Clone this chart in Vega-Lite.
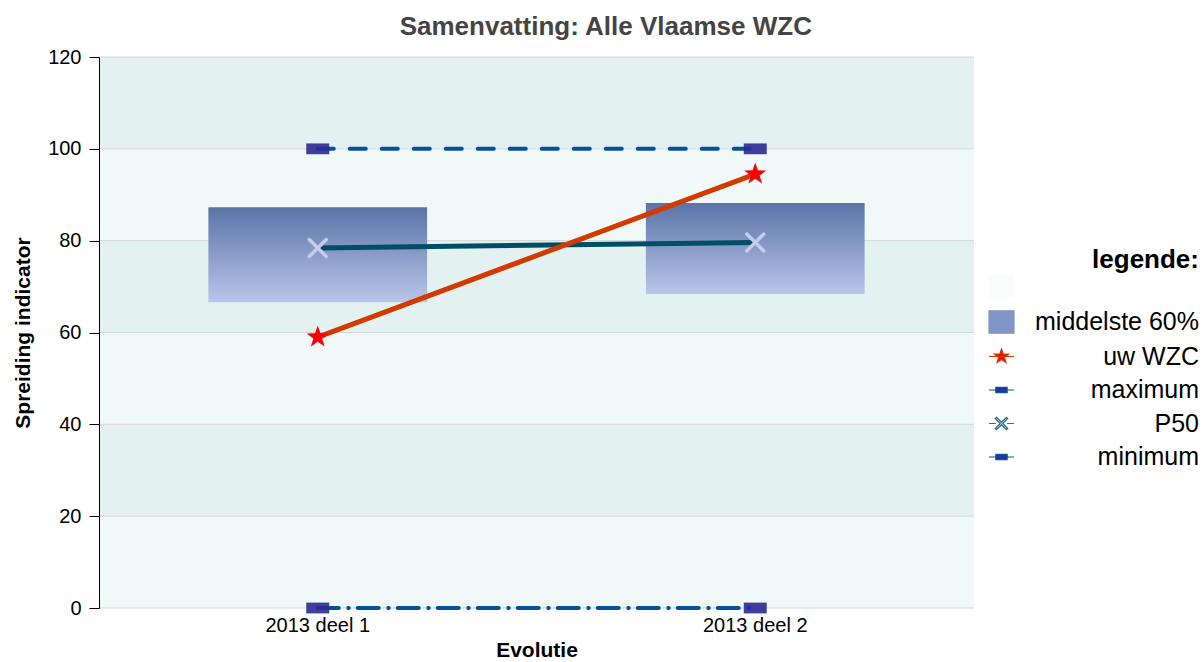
{
  "$schema": "https://vega.github.io/schema/vega-lite/v6.json",
  "width": 875,
  "height": 551,
  "padding": {"left": 12, "top": 14, "right": 0, "bottom": 0},
  "background": "white",
  "title": {"text": "Samenvatting: Alle Vlaamse WZC", "fontSize": 26, "fontWeight": "bold", "color": "#444444", "font": "Liberation Sans", "anchor": "middle", "frame": "bounds", "offset": 7},
  "datasets": {
    "main": [
      {"cat": "2013 deel 1", "p20": 66.6, "p80": 87.3, "p50": 78.4, "wzc": 59.0, "max": 100, "min": 0},
      {"cat": "2013 deel 2", "p20": 68.4, "p80": 88.2, "p50": 79.6, "wzc": 94.5, "max": 100, "min": 0}
    ],
    "darkbands": [{"lo": 100, "hi": 120}, {"lo": 60, "hi": 80}, {"lo": 20, "hi": 40}],
    "lightbands": [{"lo": 80, "hi": 100}, {"lo": 40, "hi": 60}, {"lo": 0, "hi": 20}],
    "grid": [{"v": 0}, {"v": 20}, {"v": 40}, {"v": 60}, {"v": 80}, {"v": 100}, {"v": 120}],
    "legend": [{"series": " "}, {"series": "middelste 60%"}, {"series": "uw WZC"}, {"series": "maximum"}, {"series": "P50"}, {"series": "minimum"}]
  },
  "config": {
    "font": "Liberation Sans",
    "view": {"stroke": null},
    "legend": {"orient": "none", "legendX": 889, "legendY": 190, "padding": 0, "titleAnchor": "end", "titleFontSize": 26, "titleFontWeight": "bold", "titleColor": "#000000", "titlePadding": 0, "labelFontSize": 25, "labelColor": "#000000", "labelAlign": "right", "labelOffset": 184, "labelLimit": 400, "symbolSize": 625, "symbolStrokeWidth": 1.2, "symbolOpacity": 1, "rowPadding": 6.5}
  },
  "layer": [
    {
      "data": {"name": "lightbands"},
      "mark": {"type": "rect", "fill": "#f0f9f8"},
      "encoding": {
        "y": {"field": "lo", "type": "quantitative", "scale": {"domain": [0, 120], "nice": false},
          "axis": {"values": [0, 20, 40, 60, 80, 100, 120], "zindex": 1, "grid": false, "domain": true, "ticks": true, "domainColor": "#000000", "tickColor": "#000000", "tickSize": 10, "labelPadding": 8, "labelFontSize": 20, "labelColor": "#000000", "title": "Spreiding indicator", "titleFontSize": 21, "titleFontWeight": "bold", "titleColor": "#000000", "titlePadding": 14}},
        "y2": {"field": "hi"}
      }
    },
    {
      "data": {"name": "darkbands"},
      "mark": {"type": "rect", "fill": "#e3f2f1"},
      "encoding": {
        "y": {"field": "lo", "type": "quantitative"},
        "y2": {"field": "hi"}
      }
    },
    {
      "data": {"name": "grid"},
      "mark": {"type": "rule", "stroke": "#d4d6d6", "strokeWidth": 1},
      "encoding": {"y": {"field": "v", "type": "quantitative"}}
    },
    {
      "data": {"name": "main"},
      "mark": {"type": "bar", "width": {"band": 0.5}, "fill": {"x1": 0, "y1": 0, "x2": 0, "y2": 1, "gradient": "linear", "stops": [{"offset": 0, "color": "#5a73a8"}, {"offset": 1, "color": "#bac6e8"}]}},
      "encoding": {
        "x": {"field": "cat", "type": "nominal", "scale": {"type": "band", "paddingInner": 0, "paddingOuter": 0},
          "axis": {"zindex": 1, "domain": false, "ticks": false, "grid": false, "labelAngle": 0, "labelFontSize": 20, "labelColor": "#000000", "labelPadding": 7, "title": "Evolutie", "titleFontSize": 21, "titleFontWeight": "bold", "titleColor": "#000000", "titlePadding": 4}},
        "y": {"field": "p20", "type": "quantitative"},
        "y2": {"field": "p80"}
      }
    },
    {
      "data": {"name": "main"},
      "mark": {"type": "line", "stroke": "#004d66", "strokeWidth": 5},
      "encoding": {"x": {"field": "cat", "type": "nominal"}, "y": {"field": "p50", "type": "quantitative"}}
    },
    {
      "data": {"name": "main"},
      "mark": {"type": "line", "stroke": "#d23a00", "strokeWidth": 5},
      "encoding": {"x": {"field": "cat", "type": "nominal"}, "y": {"field": "wzc", "type": "quantitative"}}
    },
    {
      "data": {"name": "main"},
      "mark": {"type": "line", "stroke": "#00529c", "strokeWidth": 4, "strokeDash": [16, 16], "strokeCap": "round"},
      "encoding": {"x": {"field": "cat", "type": "nominal"}, "y": {"field": "max", "type": "quantitative"}}
    },
    {
      "data": {"name": "main"},
      "mark": {"type": "line", "stroke": "#00529c", "strokeWidth": 4, "strokeDash": [21, 9.5, 0.5, 9], "strokeCap": "round"},
      "encoding": {"x": {"field": "cat", "type": "nominal"}, "y": {"field": "min", "type": "quantitative"}}
    },
    {
      "data": {"name": "main"},
      "mark": {"type": "point", "shape": "M-1,-0.47L1,-0.47L1,0.47L-1,0.47Z", "size": 529, "filled": true, "fill": "#2a2a92", "opacity": 0.9, "strokeWidth": 0},
      "encoding": {"x": {"field": "cat", "type": "nominal"}, "y": {"field": "max", "type": "quantitative"}}
    },
    {
      "data": {"name": "main"},
      "mark": {"type": "point", "shape": "M-1,-0.47L1,-0.47L1,0.47L-1,0.47Z", "size": 529, "filled": true, "fill": "#2a2a92", "opacity": 0.9, "strokeWidth": 0},
      "encoding": {"x": {"field": "cat", "type": "nominal"}, "y": {"field": "min", "type": "quantitative"}}
    },
    {
      "data": {"name": "main"},
      "mark": {"type": "point", "shape": "M-1,-1L1,1M-1,1L1,-1", "size": 289, "filled": false, "stroke": "#c8cce9", "strokeWidth": 3.5, "strokeCap": "round", "opacity": 1},
      "encoding": {"x": {"field": "cat", "type": "nominal"}, "y": {"field": "p50", "type": "quantitative"}}
    },
    {
      "data": {"name": "main"},
      "mark": {"type": "point", "shape": "M0,-1L0.235,-0.324L0.951,-0.309L0.38,0.124L0.588,0.809L0,0.4L-0.588,0.809L-0.38,0.124L-0.951,-0.309L-0.235,-0.324Z", "size": 538, "filled": true, "fill": "#ff0000", "opacity": 1, "strokeWidth": 0},
      "encoding": {"x": {"field": "cat", "type": "nominal"}, "y": {"field": "wzc", "type": "quantitative"}}
    },
    {
      "data": {"name": "legend"},
      "mark": {"type": "point", "filled": true, "opacity": 0},
      "encoding": {
        "shape": {"field": "series", "type": "nominal", "title": "legende:", "scale": {"domain": [" ", "middelste 60%", "uw WZC", "maximum", "P50", "minimum"], "range": ["M-1,-0.9L1,-0.9L1,0.9L-1,0.9Z", "M-1,-0.9L1,-0.9L1,0.9L-1,0.9Z", "M-1,0L1,0M0,-0.6L0.141,-0.194L0.571,-0.185L0.228,0.074L0.353,0.485L0,0.24L-0.353,0.485L-0.228,0.074L-0.571,-0.185L-0.141,-0.194Z", "M-1,0L1,0M-0.45,-0.22L0.45,-0.22L0.45,0.22L-0.45,0.22Z", "M-1,0L-0.45,0M0.45,0L1,0M-0.5,-0.4L-0.4,-0.5L0,-0.1L0.4,-0.5L0.5,-0.4L0.1,0L0.5,0.4L0.4,0.5L0,0.1L-0.4,0.5L-0.5,0.4L-0.1,0Z", "M-1,0L1,0M-0.45,-0.22L0.45,-0.22L0.45,0.22L-0.45,0.22Z"]}},
        "fill": {"field": "series", "type": "nominal", "title": "legende:", "scale": {"domain": [" ", "middelste 60%", "uw WZC", "maximum", "P50", "minimum"], "range": ["#fafcfc", "#8195c8", "#ff0000", "#2a2a92", "#c8cce9", "#2a2a92"]}},
        "stroke": {"field": "series", "type": "nominal", "title": "legende:", "scale": {"domain": [" ", "middelste 60%", "uw WZC", "maximum", "P50", "minimum"], "range": ["#fafcfc", "#8195c8", "#d23a00", "#00529c", "#2f6f86", "#00529c"]}}
      }
    }
  ]
}
